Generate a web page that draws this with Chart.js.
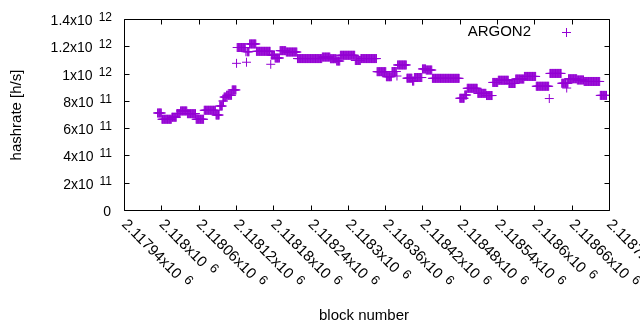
<!DOCTYPE html>
<html>
<head>
<meta charset="utf-8">
<script src="https://cdn.jsdelivr.net/npm/chart.js@4.4.1/dist/chart.umd.min.js"></script>
<style>
html,body{margin:0;padding:0;background:#fff;}
#wrap{width:640px;height:330px;}
</style>
</head>
<body>
<div id="wrap"><canvas id="c" width="640" height="330"></canvas></div>
<script>
// ---- data ----
const seriesName = 'ARGON2';
// runs of consecutive blocks sharing the same hashrate value
const runStart = [2117994,2118001,2118017,2118025,2118031,2118042,2118056,2118069,2118088,2118094,2118099,2118101,2118105,2118114,2118121,2118122,2118136,2118137,2118138,2118142,2118153,2118176,2118177,2118183,2118191,2118201,2118219,2118259,2118272,2118282,2118288,2118312,2118321,2118347,2118362,2118371,2118379,2118380,2118395,2118404,2118407,2118420,2118426,2118436,2118480,2118488,2118492,2118509,2118523,2118533,2118542,2118559,2118570,2118584,2118603,2118624,2118625,2118644,2118652,2118653,2118655,2118669,2118680,2118706];
const runEnd   = [2118000,2118016,2118024,2118030,2118041,2118055,2118068,2118087,2118093,2118098,2118100,2118104,2118113,2118120,2118121,2118135,2118136,2118137,2118141,2118152,2118175,2118176,2118182,2118190,2118200,2118218,2118258,2118271,2118281,2118287,2118311,2118320,2118346,2118361,2118370,2118378,2118379,2118394,2118403,2118406,2118419,2118425,2118435,2118479,2118487,2118491,2118508,2118522,2118532,2118541,2118558,2118569,2118583,2118602,2118623,2118624,2118643,2118651,2118652,2118654,2118668,2118679,2118705,2118716];
const runValue = [7.11e11,6.65e11,6.80e11,7.07e11,7.26e11,7.06e11,6.65e11,7.31e11,6.96e11,7.62e11,7.99e11,8.28e11,8.41e11,8.80e11,1.075e12,1.191e12,1.160e12,1.083e12,1.160e12,1.217e12,1.163e12,1.068e12,1.136e12,1.114e12,1.168e12,1.158e12,1.110e12,1.121e12,1.109e12,1.092e12,1.134e12,1.096e12,1.110e12,1.014e12,9.77e11,1.015e12,9.82e11,1.063e12,9.66e11,9.45e11,9.71e11,1.034e12,1.026e12,9.65e11,8.19e11,8.43e11,8.92e11,8.55e11,8.39e11,9.35e11,9.51e11,9.27e11,9.60e11,9.79e11,9.07e11,8.17e11,1.001e12,9.29e11,8.94e11,9.29e11,9.62e11,9.53e11,9.42e11,8.40e11];

const xTickValues   = [2117940,2118000,2118060,2118120,2118180,2118240,2118300,2118360,2118420,2118480,2118540,2118600,2118660,2118720];
const xTickMantissa = ['2.11794x10','2.118x10','2.11806x10','2.11812x10','2.11818x10','2.11824x10','2.1183x10','2.11836x10','2.11842x10','2.11848x10','2.11854x10','2.1186x10','2.11866x10','2.11872x10'];
const xTickExponent = ['6','6','6','6','6','6','6','6','6','6','6','6','6','6'];
const yTickValues   = [0,2e11,4e11,6e11,8e11,1e12,1.2e12,1.4e12];
const yTickMantissa = ['0','2x10','4x10','6x10','8x10','1x10','1.2x10','1.4x10'];
const yTickExponent = ['','11','11','11','11','12','12','12'];
const xTitle = 'block number';
const yTitle = 'hashrate [h/s]';

// ---- build points (one per block in each run) ----
const points = [];
for (let i = 0; i < runStart.length; i++) {
  for (let b = runStart[i]; b <= runEnd[i]; b++) points.push({x: b, y: runValue[i]});
}

const COLOR = '#9400d3';
const FONT = '"Liberation Sans", Arial, sans-serif';

const gnuplotLook = {
  id: 'gnuplotLook',
  afterDraw(chart) {
    const ctx = chart.ctx;
    const a = chart.chartArea;
    const xs = chart.scales.x, ys = chart.scales.y;
    const L = Math.round(a.left) + 0.5, R = Math.round(a.right) + 0.5;
    const T = Math.round(a.top) + 0.5, B = Math.round(a.bottom) + 0.5;
    const tl = 5;
    ctx.save();
    ctx.strokeStyle = '#000';
    ctx.lineWidth = 1;
    ctx.beginPath();
    ctx.rect(L, T, R - L, B - T);
    yTickValues.forEach(v => {
      const y = Math.round(ys.getPixelForValue(v)) + 0.5;
      ctx.moveTo(L, y); ctx.lineTo(L + tl, y);
      ctx.moveTo(R, y); ctx.lineTo(R - tl, y);
    });
    xTickValues.forEach(v => {
      const x = Math.round(xs.getPixelForValue(v)) + 0.5;
      ctx.moveTo(x, B); ctx.lineTo(x, B - tl);
      ctx.moveTo(x, T); ctx.lineTo(x, T + tl);
    });
    ctx.stroke();

    ctx.fillStyle = '#000';
    const mainFont = '14px ' + FONT, supFont = '12px ' + FONT;
    const xFont = '15px ' + FONT, xSupFont = '13px ' + FONT;
    const titleFont = '15px ' + FONT;
    yTickValues.forEach((v, i) => {
      const y = ys.getPixelForValue(v);
      ctx.textBaseline = 'alphabetic';
      const rightEdge = 112;
      if (yTickExponent[i]) {
        ctx.font = supFont;
        const sw = ctx.measureText(yTickExponent[i]).width;
        ctx.textAlign = 'left';
        ctx.fillText(yTickExponent[i], rightEdge - sw, y + 2);
        ctx.font = mainFont;
        ctx.textAlign = 'right';
        ctx.fillText(yTickMantissa[i], rightEdge - sw - 6, y + 6);
      } else {
        ctx.font = mainFont;
        ctx.textAlign = 'right';
        ctx.fillText(yTickMantissa[i], rightEdge - 1, y + 6);
      }
    });
    xTickValues.forEach((v, i) => {
      const x = xs.getPixelForValue(v);
      ctx.save();
      ctx.translate(x, 222);
      ctx.rotate(Math.PI / 4);
      ctx.textAlign = 'left';
      ctx.textBaseline = 'middle';
      ctx.font = xFont;
      ctx.fillText(xTickMantissa[i], 0, 0);
      const w = ctx.measureText(xTickMantissa[i]).width;
      ctx.font = xSupFont;
      ctx.fillText(xTickExponent[i], w + 6, -4);
      ctx.restore();
    });
    ctx.font = titleFont;
    ctx.textAlign = 'center';
    ctx.textBaseline = 'middle';
    ctx.fillText(xTitle, 364, 316);
    ctx.save();
    ctx.translate(17, 115);
    ctx.rotate(-Math.PI / 2);
    ctx.fillText(yTitle, 0, 0);
    ctx.restore();
    ctx.textAlign = 'right';
    ctx.fillText(seriesName, 531, 32);
    ctx.strokeStyle = COLOR;
    ctx.beginPath();
    ctx.moveTo(562, 32.5); ctx.lineTo(571, 32.5);
    ctx.moveTo(566.5, 28); ctx.lineTo(566.5, 37);
    ctx.stroke();
    ctx.restore();
  }
};

new Chart(document.getElementById('c'), {
  type: 'scatter',
  data: {
    datasets: [{
      label: seriesName,
      data: points,
      pointStyle: 'cross',
      pointRadius: 4.5,
      pointHoverRadius: 4.5,
      pointBorderWidth: 1,
      borderColor: COLOR,
      backgroundColor: COLOR,
      showLine: false
    }]
  },
  options: {
    responsive: false,
    animation: false,
    devicePixelRatio: 1,
    events: [],
    layout: {padding: {left: 0, top: 19, right: 31, bottom: 0}},
    plugins: {legend: {display: false}, tooltip: {enabled: false}},
    scales: {
      x: {
        type: 'linear', min: 2117940, max: 2118720,
        grid: {display: false}, border: {display: false},
        ticks: {display: false, stepSize: 60},
        afterFit(s) { s.height = 120; }
      },
      y: {
        type: 'linear', min: 0, max: 1.4e12,
        grid: {display: false}, border: {display: false},
        ticks: {display: false, stepSize: 2e11},
        afterFit(s) { s.width = 124; }
      }
    }
  },
  plugins: [gnuplotLook]
});
</script>
</body>
</html>
